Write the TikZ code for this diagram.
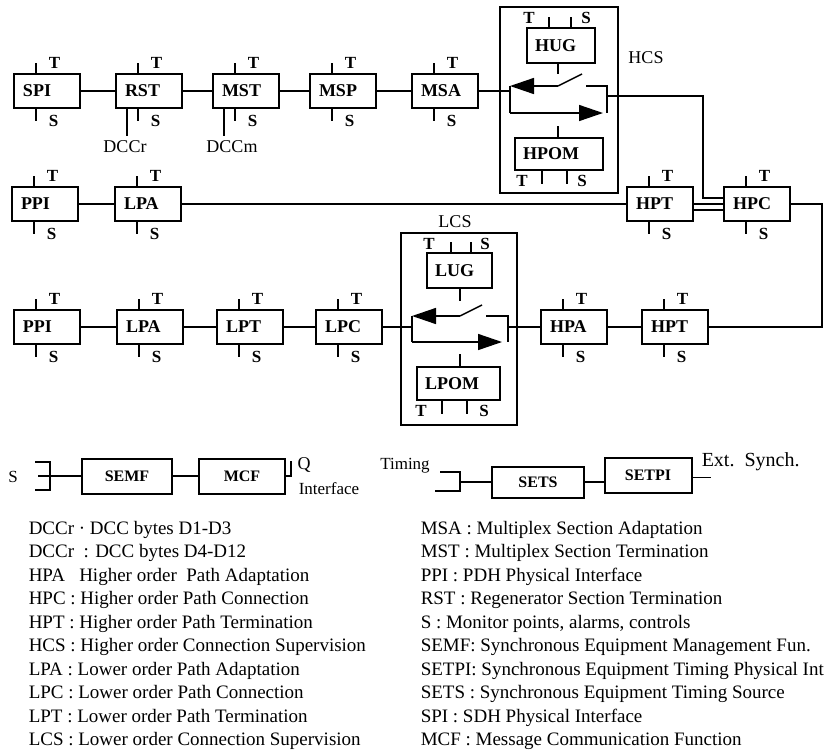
\documentclass[tikz,border=0pt]{standalone}
\usepackage{fontspec}
\setmainfont{Liberation Serif}
\usetikzlibrary{arrows.meta}

\begin{document}
\begin{tikzpicture}[x=1pt, y=-1pt, >={Triangle[length=24pt,width=16pt]}, line width=1.5pt]
  \tikzstyle{fb}=[draw, line width=2pt, text width=48pt, align=left, inner xsep=9pt,
                  inner ysep=0pt, minimum height=34pt, font=\fontsize{18}{20}\selectfont\bfseries]
  \tikzstyle{sub}=[draw, line width=1.8pt, align=left, inner xsep=8pt, inner ysep=0pt,
                   font=\fontsize{18}{20}\selectfont\bfseries]
  \tikzstyle{mb}=[draw, line width=2pt, minimum height=35pt, inner sep=0pt,
                  font=\fontsize{16}{18}\selectfont\bfseries]
  \tikzstyle{sup}=[draw, line width=1.8pt, inner sep=0pt]
  \tikzstyle{ts}=[inner sep=0pt, font=\fontsize{17}{19}\selectfont\bfseries]
  \tikzstyle{txt}=[inner sep=0pt, font=\fontsize{18}{20}\selectfont]
  \tikzstyle{leg}=[inner sep=0pt, anchor=base west, font=\fontsize{19}{21}\selectfont]

  \useasboundingbox (0,0) rectangle (825,753);

  % ================= top row: SPI .. MSA ==================
  \node[fb] (spi) at (47,91)  {SPI};
  \node[fb] (rst) at (149,91) {RST};
  \node[fb] (mst) at (246,91) {MST};
  \node[fb] (msp) at (343,91) {MSP};
  \node[fb] (msa) at (445,91) {MSA};
  \draw (spi) -- (rst);
  \draw (rst) -- (mst);
  \draw (mst) -- (msp);
  \draw (msp) -- (msa);
  % DCC outputs
  \draw[line width=2.6pt] ([xshift=12pt]rst.south west) -- ++(0,27);
  \draw[line width=2.6pt] ([xshift=12pt]mst.south west) -- ++(0,27);
  \node[txt] (dccr) at (125,147) {DCCr};
  \node[txt] (dccm) at (232,147) {DCCm};

  % ================= HCS block ==================
  \node[sup, minimum width=118pt, minimum height=186pt] (hcs) at (559,100) {};
  \node[txt] (hcsl) at (646,58) {HCS};
  \node[sub, text width=52pt, minimum height=35pt] (hug) at (561,45.5) {HUG};
  \node[sub, text width=72pt, minimum height=32pt] (hpom) at (559,154) {HPOM};
  \coordinate (hsl) at (510,86);
  \coordinate (hpv) at (558,86);
  \coordinate (hsr) at (586,86);
  \draw[->] (hpv) -- (hsl);
  \draw (hpv) -- ++(24,-12);
  \draw (hsr) -- ++(21,0) -- ++(0,27);
  \draw (hsl) -- ++(0,27) coordinate (hbl);
  \draw[->] (hbl) -- ++(93,0);
  \draw (hug.south -| hpv) -- ++(0,10);
  \draw (hpom.north -| hpv) -- ++(0,-11);
  % HUG / HPOM T and S
  \draw ([xshift=23pt]hug.north west) -- ++(0,-10);
  \draw ([xshift=45pt]hug.north west) -- ++(0,-10);
  \node[ts] (hug-t) at ([xshift=3pt,yshift=9pt]hug.north west) {T};
  \node[ts] (hug-s) at ([xshift=60pt,yshift=9pt]hug.north west) {S};
  \draw ([xshift=28pt]hpom.south west) -- ++(0,13);
  \draw ([xshift=53pt]hpom.south west) -- ++(0,13);
  \node[ts] (hpom-t) at ([xshift=8pt,yshift=-10pt]hpom.south west) {T};
  \node[ts] (hpom-s) at ([xshift=68pt,yshift=-10pt]hpom.south west) {S};
  \draw (msa.east) -- (msa.east -| hsl);
  \coordinate (hout) at (607,96);
  \coordinate (hturn) at (703,96);

  % ================= middle row ==================
  \node[fb] (ppia) at (45,204)  {PPI};
  \node[fb] (lpaa) at (148,204) {LPA};
  \node[fb] (hpta) at (660,204) {HPT};
  \node[fb] (hpc)  at (757,204) {HPC};
  \draw (ppia) -- (lpaa);
  \draw (lpaa) -- (hpta);
  \draw (hout) -- (hturn) |- ([yshift=6pt]hpc.west);
  \draw (hpta.east) -- (hpc.west);
  \draw ([yshift=-6pt]hpta.east) -- ([yshift=-6pt]hpc.west);
  \coordinate (rloop) at (822,204);

  % ================= bottom row ==================
  \node[fb] (ppib) at (47,327)  {PPI};
  \node[fb] (lpab) at (150,327) {LPA};
  \node[fb] (lpt)  at (250,327) {LPT};
  \node[fb] (lpc)  at (349,327) {LPC};
  \node[fb] (hpa)  at (574,327) {HPA};
  \node[fb] (hptb) at (675,327) {HPT};
  \draw (ppib) -- (lpab);
  \draw (lpab) -- (lpt);
  \draw (lpt) -- (lpc);
  \draw (hpa) -- (hptb);
  \draw (hpc.east) -- (rloop) |- (hptb.east);

  % ================= LCS block ==================
  \node[sup, minimum width=116pt, minimum height=192pt] (lcs) at (459,329) {};
  \node[txt] (lcsl) at (455,222) {LCS};
  \node[sub, text width=49pt, minimum height=35pt] (lug) at (459.5,270.5) {LUG};
  \node[sub, text width=67pt, minimum height=33pt] (lpom) at (458.5,383.5) {LPOM};
  \coordinate (lsl) at (412,316);
  \coordinate (lpv) at (460,316);
  \coordinate (lsr) at (486,316);
  \draw[->] (lpv) -- (lsl);
  \draw (lpv) -- ++(22,-11);
  \draw (lsr) -- ++(22,0) -- ++(0,26);
  \draw (lsl) -- ++(0,26) coordinate (lbl);
  \draw[->] (lbl) -- ++(90,0);
  \draw (lug.south -| lpv) -- ++(0,12);
  \draw (lpom.north -| lpv) -- ++(0,-12);
  \draw ([xshift=25pt]lug.north west) -- ++(0,-10);
  \draw ([xshift=45pt]lug.north west) -- ++(0,-10);
  \node[ts] (lug-t) at ([xshift=3pt,yshift=8pt]lug.north west) {T};
  \node[ts] (lug-s) at ([xshift=59pt,yshift=8pt]lug.north west) {S};
  \draw ([xshift=26pt]lpom.south west) -- ++(0,13);
  \draw ([xshift=51pt]lpom.south west) -- ++(0,13);
  \node[ts] (lpom-t) at ([xshift=5pt,yshift=-10pt]lpom.south west) {T};
  \node[ts] (lpom-s) at ([xshift=68pt,yshift=-10pt]lpom.south west) {S};
  \coordinate (lout) at (508,327);
  \draw (lpc.east) -- (lpc.east -| lsl);
  \draw (lout) -- (hpa.west);

  % T and S of the plain blocks
  \foreach \b in {spi,rst,mst,msp,msa,ppia,lpaa,hpta,hpc,ppib,lpab,lpt,lpc,hpa,hptb}{
    \draw ([xshift=23pt]\b.north west) -- ++(0,-10) node[ts, anchor=west, xshift=12pt] (\b-t) {T};
    \draw ([xshift=23pt]\b.south west) -- ++(0,12) node[ts, anchor=west, xshift=12pt] (\b-s) {S};
  }

  % ================= management / timing ==================
  \node[txt, font=\fontsize{17}{19}\selectfont] (slbl) at (13,477) {S};
  \draw (35,462) -- (50,462) -- (50,490) -- (35,490);
  \node[mb, minimum width=90pt] (semf) at (127,476) {SEMF};
  \node[mb, minimum width=86pt] (mcf) at (242,476) {MCF};
  \draw (38,476) -- (semf.west);
  \draw (semf) -- (mcf);
  \draw (mcf.east) -- (291,476) -- (291,461);
  \node[txt] (q) at (304,465) {Q};
  \node[txt, font=\fontsize{17}{19}\selectfont] (intf) at (329,489) {Interface};

  \node[txt, font=\fontsize{17}{19}\selectfont] (tim) at (405,466) {Timing};
  \draw (440,472) -- (460,472) -- (460,491) -- (435,491);
  \node[mb, minimum width=92pt, minimum height=31pt] (sets) at (538,482) {SETS};
  \node[mb, minimum width=87pt] (setpi) at (648,475.5) {SETPI};
  \draw (460,482) -- (sets.west);
  \draw (sets.east) -- (sets.east -| setpi.west);
  \draw ([yshift=-2pt]setpi.east) -- ++(18,0);
  \node[txt, font=\fontsize{20}{22}\selectfont, anchor=west] (ext) at (701,462) {Ext.\ \ Synch.};

  % ================= legend ==================
  \foreach \t [count=\i from 0] in {{DCCr · DCC bytes D1-D3},
      {DCCr\ \ : DCC bytes D4-D12},
      {HPA\ \ \ Higher order\ \ Path Adaptation},
      {HPC : Higher order Path Connection},
      {HPT : Higher order Path Termination},
      {HCS : Higher order Connection Supervision},
      {LPA : Lower order Path Adaptation},
      {LPC : Lower order Path Connection},
      {LPT : Lower order Path Termination},
      {LCS : Lower order Connection Supervision}}
    \node[leg] (legl\i) at (28,{534+23.5*\i}) {\t};
  \foreach \t [count=\i from 0] in {{MSA : Multiplex Section Adaptation},
      {MST : Multiplex Section Termination},
      {PPI : PDH Physical Interface},
      {RST : Regenerator Section Termination},
      {S : Monitor points, alarms, controls},
      {SEMF: Synchronous Equipment Management Fun.},
      {SETPI: Synchronous Equipment Timing Physical Int},
      {SETS : Synchronous Equipment Timing Source},
      {SPI : SDH Physical Interface},
      {MCF : Message Communication Function}}
    \node[leg] (legr\i) at (420,{534+23.5*\i}) {\t};
\end{tikzpicture}
\end{document}
